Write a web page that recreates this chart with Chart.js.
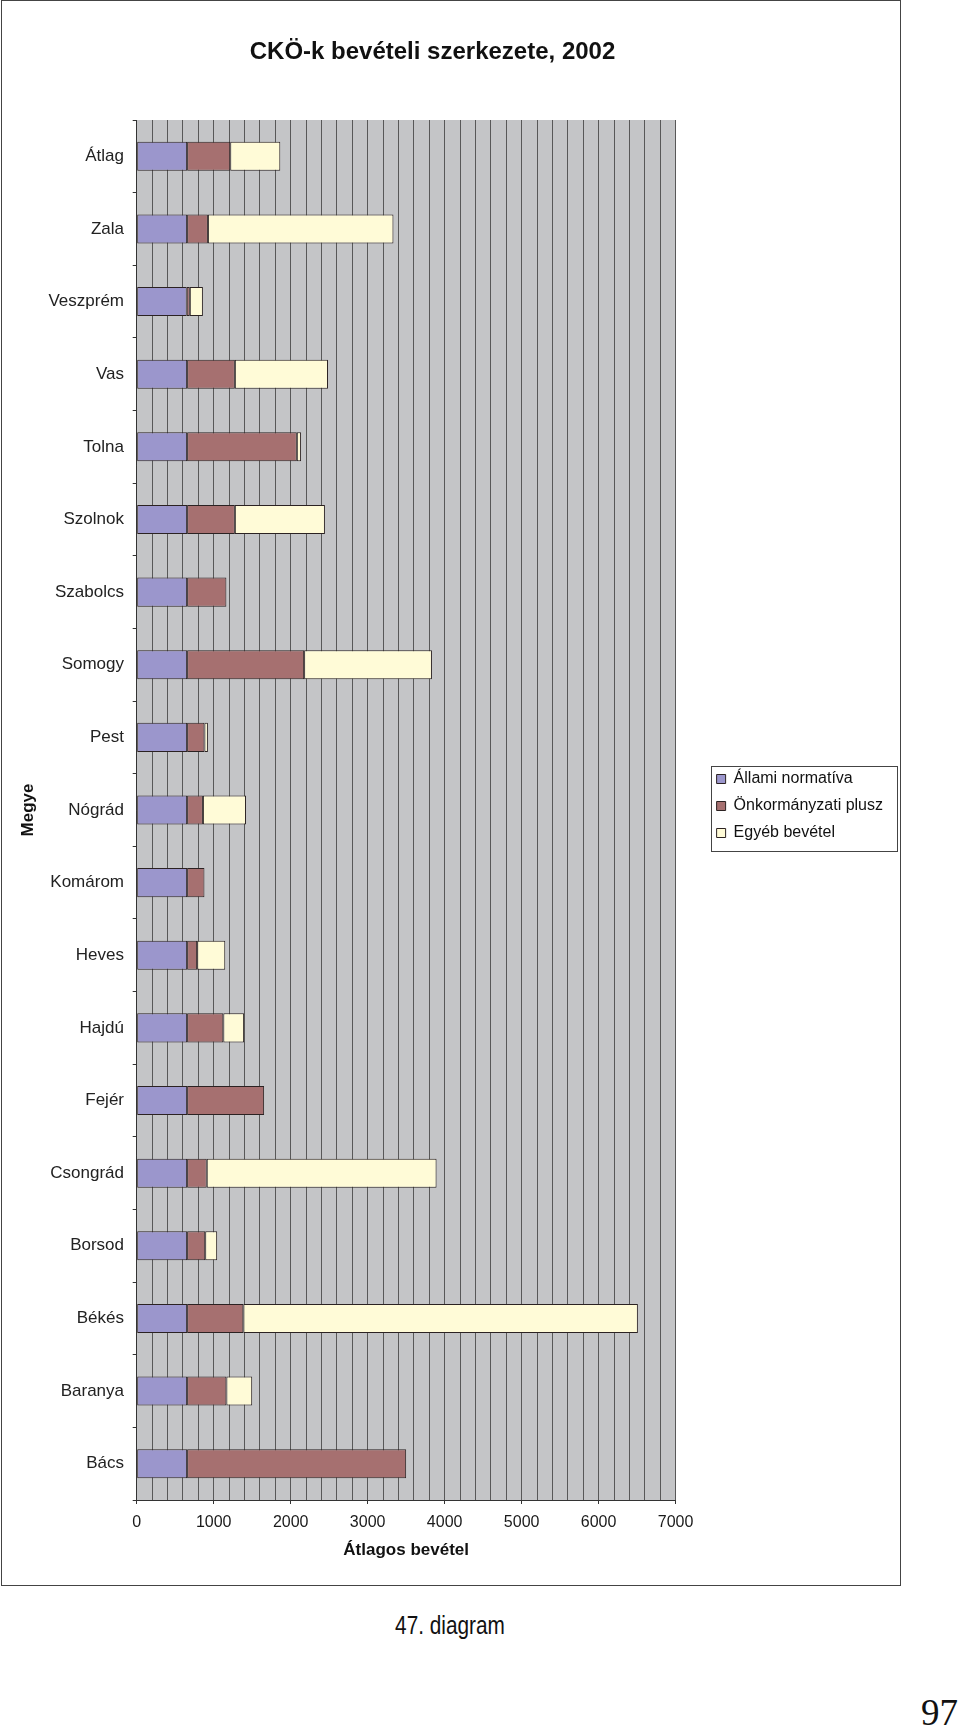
<!DOCTYPE html>
<html>
<head>
<meta charset="utf-8">
<script src="https://cdn.jsdelivr.net/npm/chart.js@4/dist/chart.umd.min.js"></script>
<style>
	body { margin: 0; background: #fff; }
	#box { position: absolute; left: 1px; top: 0; width: 898px; height: 1584px; border: 1px solid #444; }
	#caption { position: absolute; left: 300px; width: 300px; top: 1612px; text-align: center;
		font: 26px "Liberation Sans", Arial, sans-serif; line-height: 1; color: #111; transform: scaleX(0.8); }
	#page { position: absolute; left: 921px; top: 1694px; font: 37px "Liberation Serif", "Times New Roman", serif; line-height: 1; color: #111; }
</style>
</head>
<body>
<div id="box"><canvas id="myChart"></canvas></div>
<div id="caption">47. diagram</div>
<div id="page">97</div>
<script>
const counties = ['Átlag', 'Zala', 'Veszprém', 'Vas', 'Tolna', 'Szolnok', 'Szabolcs', 'Somogy', 'Pest', 'Nógrád',
	'Komárom', 'Heves', 'Hajdú', 'Fejér', 'Csongrád', 'Borsod', 'Békés', 'Baranya', 'Bács'];
const allami = [655, 655, 650, 655, 655, 655, 655, 655, 655, 655, 655, 655, 655, 655, 655, 655, 655, 655, 655];
const onkormanyzati = [560, 270, 40, 620, 1425, 620, 510, 1520, 225, 205, 225, 130, 470, 1000, 255, 235, 730, 510, 2845];
const egyeb = [650, 2410, 170, 1210, 55, 1170, 0, 1660, 45, 560, 0, 365, 270, 0, 2985, 155, 5125, 335, 0];
const xTicks = [0, 1000, 2000, 3000, 4000, 5000, 6000, 7000];

Chart.defaults.font.family = '"Liberation Sans", Arial, sans-serif';
Chart.defaults.color = '#1a1a1a';

// grey plot area + shifted legend with a frame
const plotBg = {
	id: 'plotBg',
	beforeDraw(chart) {
		const a = chart.chartArea, ctx = chart.ctx;
		ctx.save();
		ctx.fillStyle = '#c4c5c7';
		ctx.fillRect(a.left, a.top, a.right - a.left, a.bottom - a.top);
		ctx.restore();
	},
	afterLayout(chart) {
		const lg = chart.legend;
		lg.left += 30; lg.right += 30;
		lg.top -= 4; lg.bottom -= 4;
	},
	afterDraw(chart) {
		const hb = chart.legend.legendHitBoxes;
		if (!hb || !hb.length) return;
		const x0 = Math.min(...hb.map(h => h.left));
		const w = Math.max(...hb.map(h => h.width));
		const y0 = hb[0].top, y1 = hb[hb.length - 1].top + hb[hb.length - 1].height;
		const ctx = chart.ctx;
		ctx.save();
		ctx.strokeStyle = '#444';
		ctx.lineWidth = 1;
		ctx.strokeRect(Math.round(x0 - 6) + 0.5, Math.round(y0 - 5) + 0.5, Math.round(w + 20), Math.round(y1 - y0 + 15));
		ctx.restore();
	}
};

const ctx = document.getElementById('myChart');
new Chart(ctx, {
	type: 'bar',
	data: {
		labels: counties,
		datasets: [
			{ label: 'Állami normatíva', data: allami, backgroundColor: '#9b96cc' },
			{ label: 'Önkormányzati plusz', data: onkormanyzati, backgroundColor: '#a67070' },
			{ label: 'Egyéb bevétel', data: egyeb, backgroundColor: '#fffbd7' }
		].map(d => Object.assign(d, { borderColor: '#2b2222', borderWidth: 1, borderSkipped: false,
			categoryPercentage: 0.8, barPercentage: 0.5 }))
	},
	options: {
		indexAxis: 'y',
		responsive: true,
		maintainAspectRatio: false,
		animation: false,
		layout: { padding: { left: 0, right: 37, top: 0, bottom: 0 } },
		plugins: {
			title: {
				display: true,
				text: 'CKÖ-k bevételi szerkezete, 2002',
				color: '#111',
				font: { size: 24, weight: 'bold' },
				padding: { top: 37.2, bottom: 53 }
			},
			legend: {
				position: 'right',
				fullSize: false,
				labels: { boxWidth: 9, boxHeight: 9, padding: 11, color: '#111', font: { size: 16 } }
			},
			tooltip: { enabled: false }
		},
		scales: {
			x: {
				stacked: true,
				min: 0,
				max: 7000,
				afterFit: s => { s.height = 85; },
				ticks: {
					stepSize: 200,
					autoSkip: false,
					maxRotation: 0,
					padding: 9,
					font: { size: 16 },
					callback: v => xTicks.includes(v) ? String(v) : ''
				},
				grid: {
					color: '#585858',
					tickLength: 4,
					tickColor: c => (c.tick && xTicks.includes(c.tick.value)) ? '#333' : 'rgba(0,0,0,0)'
				},
				border: { color: '#333' },
				title: {
					display: true,
					text: 'Átlagos bevétel',
					color: '#111',
					font: { size: 17, weight: 'bold' },
					padding: { top: 0, bottom: 24 }
				}
			},
			y: {
				stacked: true,
				afterFit: s => { s.width = 134.7; },
				ticks: { padding: 8.7, font: { size: 17 }, color: '#222' },
				grid: { offset: true, drawOnChartArea: false, tickLength: 4, tickColor: '#333' },
				border: { color: '#333' },
				title: {
					display: true,
					text: 'Megye',
					color: '#111',
					font: { size: 17, weight: 'bold' },
					padding: { top: 16.5, bottom: 0 }
				}
			}
		}
	},
	plugins: [plotBg]
});
</script>
</body>
</html>
